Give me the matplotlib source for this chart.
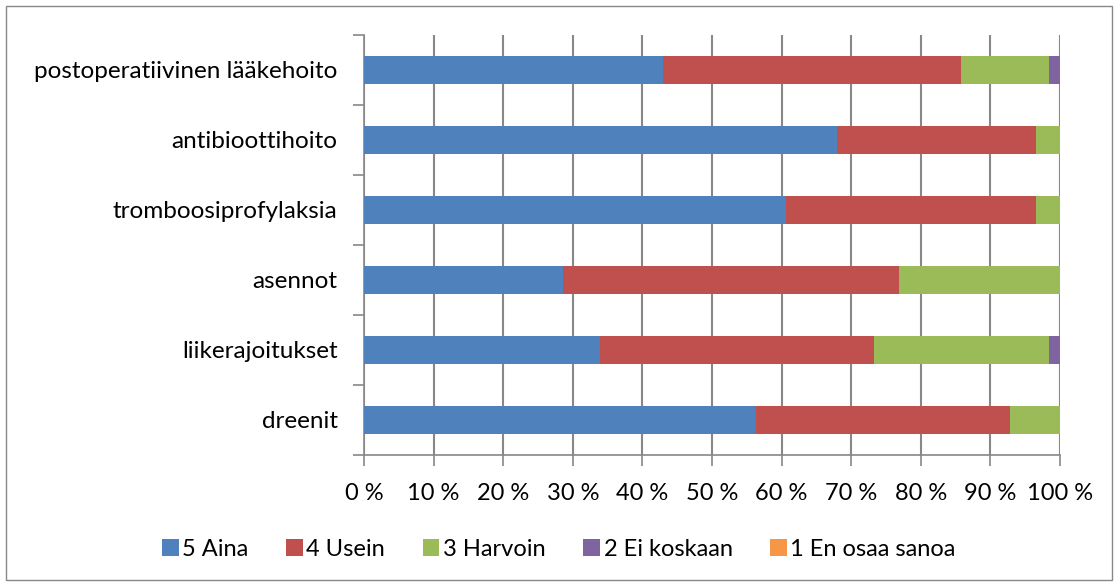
import matplotlib
matplotlib.use("Agg")
import matplotlib.pyplot as plt
from matplotlib.patches import Rectangle
from matplotlib.ticker import FixedLocator

categories = ["postoperatiivinen lääkehoito", "antibioottihoito", "tromboosiprofylaksia",
              "asennot", "liikerajoitukset", "dreenit"]
series_names = ["5 Aina", "4 Usein", "3 Harvoin", "2 Ei koskaan", "1 En osaa sanoa"]
aina = [43.0, 68.0, 60.7, 28.6, 33.9, 56.3]
usein = [42.8, 28.6, 35.9, 48.2, 39.4, 36.5]
harvoin = [12.6, 3.4, 3.4, 23.2, 25.1, 7.2]
ei_koskaan = [1.6, 0.0, 0.0, 0.0, 1.6, 0.0]
en_osaa = [0.0, 0.0, 0.0, 0.0, 0.0, 0.0]
colors = ["#4F81BD", "#C0504D", "#9BBB59", "#8064A2", "#F79646"]
xticks = [0, 10, 20, 30, 40, 50, 60, 70, 80, 90, 100]
xtick_labels = ["0 %", "10 %", "20 %", "30 %", "40 %", "50 %", "60 %", "70 %", "80 %", "90 %", "100 %"]

plt.rcParams['font.family'] = ['Lato', 'DejaVu Sans']
W, H = 1118, 586
fig = plt.figure(figsize=(W / 100, H / 100), dpi=100)
fig.patches.append(Rectangle((6 / W, 6 / H), (W - 12) / W, (H - 12) / H, transform=fig.transFigure,
                             fill=False, edgecolor="#888888", linewidth=1.0))
ax = fig.add_axes([364 / W, (H - 455) / H, (1060 - 364) / W, (455 - 35) / H])

y = list(range(len(categories)))
left = [0.0] * len(categories)
series = [aina, usein, harvoin, ei_koskaan, en_osaa]
for name, vals, c in zip(series_names, series, colors):
    ax.barh(y, vals, left=left, height=0.4, color=c, label=name, zorder=3)
    left = [a + b for a, b in zip(left, vals)]

ax.set_xlim(0, 100)
ax.set_ylim(len(categories) - 0.5, -0.5)
ax.set_xticks(xticks)
ax.set_xticklabels(xtick_labels, fontsize=17)
ax.set_yticks(y)
ax.set_yticklabels(categories, fontsize=17.5)
ax.yaxis.set_minor_locator(FixedLocator([i - 0.5 for i in range(len(categories) + 1)]))
ax.tick_params(axis='y', which='major', length=0, pad=19)
ax.tick_params(axis='y', which='minor', length=8, color="#888888", width=1.2)
ax.tick_params(axis='x', which='major', length=8, color="#888888", width=1.2, pad=12)
ax.grid(axis='x', color="#888888", linewidth=1.5, zorder=0)
for s in ["top", "right"]:
    ax.spines[s].set_visible(False)
for s in ["left", "bottom"]:
    ax.spines[s].set_color("#888888")
    ax.spines[s].set_linewidth(1.2)

handles, labels = ax.get_legend_handles_labels()
fig.legend(handles, labels, loc="center", bbox_to_anchor=(0.5, 1 - 549 / H), ncol=5, frameon=False,
           fontsize=17, handlelength=0.7, handleheight=0.7, handletextpad=0.15, columnspacing=1.6)

fig.savefig("out.png", dpi=100)
